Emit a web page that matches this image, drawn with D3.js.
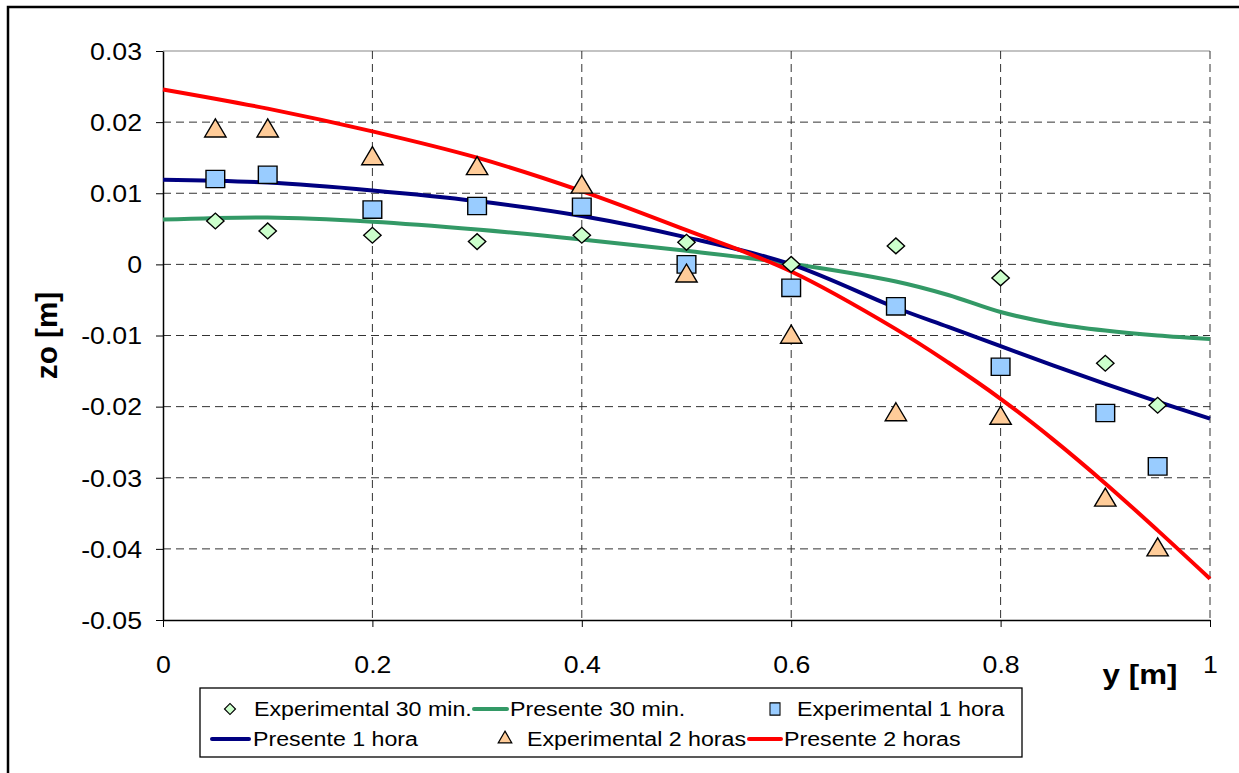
<!DOCTYPE html>
<html>
<head>
<meta charset="utf-8">
<script src="https://cdnjs.cloudflare.com/ajax/libs/d3/7.8.5/d3.min.js"></script>
<style>
  body { margin: 0; background: #fff; }
  svg { font-family: "Liberation Sans", Arial, sans-serif; }
</style>
</head>
<body>
<div id="chart"></div>
<script>
// experimental points
const expX = [0.05, 0.1, 0.2, 0.3, 0.4, 0.5, 0.6, 0.7, 0.8, 0.9, 0.95];
const exp30 = [0.0061, 0.0047, 0.0041, 0.0032, 0.0041, 0.0031, 0.0, 0.0026, -0.0019, -0.0139, -0.0198];
const exp1h = [0.0120, 0.0126, 0.0077, 0.0082, 0.0081, 0.0, -0.0033, -0.0059, -0.0144, -0.0209, -0.0284];
const exp2h = [0.0189, 0.0189, 0.0150, 0.0136, 0.0110, -0.0015, -0.0101, -0.0210, -0.0215, -0.0330, -0.0400];

// model curves
const modelX = [0, 0.1, 0.2, 0.3, 0.4, 0.5, 0.6, 0.7, 0.75, 0.8, 0.85, 0.9, 0.95, 1.0];
const pres30 = [0.0063, 0.0066, 0.0060, 0.0049, 0.0035, 0.0019, 0.0001, -0.0024, -0.0043, -0.0067, -0.0083, -0.0093, -0.0100, -0.0105];
const pres1h = [0.0119, 0.0115, 0.0104, 0.0089, 0.0068, 0.0038, 0.0000, -0.0061, -0.0088, -0.0115, -0.0142, -0.0168, -0.0193, -0.0217];
const pres2h = [0.0246, 0.0219, 0.0187, 0.0150, 0.0103, 0.0048, -0.0010, -0.0091, -0.0138, -0.0189, -0.0246, -0.0308, -0.0374, -0.0442];

const xTicks = [0, 0.2, 0.4, 0.6, 0.8, 1];
const yTicks = [0.03, 0.02, 0.01, 0, -0.01, -0.02, -0.03, -0.04, -0.05];

const width = 1239, height = 773;
const plot = { left: 163, top: 51, right: 1210, bottom: 620 };
const sx = 1.16; // text looks stretched horizontally in the original

const svg = d3.select("#chart").append("svg")
  .attr("width", width)
  .attr("height", height);

// outer frame (right and bottom edges fall outside the picture)
svg.append("rect")
  .attr("x", 8).attr("y", 7)
  .attr("width", 1300).attr("height", 800)
  .attr("fill", "none").attr("stroke", "#000").attr("stroke-width", 2.5);

const x = d3.scaleLinear().domain([0, 1]).range([plot.left, plot.right]);
const y = d3.scaleLinear().domain([-0.05, 0.03]).range([plot.bottom, plot.top]);

// grid
svg.append("g")
  .selectAll("line")
  .data(yTicks.filter(d => d !== -0.05 && d !== 0.03))
  .join("line")
  .attr("x1", plot.left).attr("x2", plot.right)
  .attr("y1", d => y(d)).attr("y2", d => y(d))
  .attr("stroke", "#333").attr("stroke-width", 1)
  .attr("stroke-dasharray", "8,5");

svg.append("line")
  .attr("x1", plot.left).attr("x2", plot.right)
  .attr("y1", y(0.03)).attr("y2", y(0.03))
  .attr("stroke", "#888").attr("stroke-width", 1.2);

svg.append("g")
  .selectAll("line")
  .data(xTicks.filter(d => d !== 0))
  .join("line")
  .attr("x1", d => x(d)).attr("x2", d => x(d))
  .attr("y1", plot.top).attr("y2", plot.bottom)
  .attr("stroke", "#333").attr("stroke-width", 1)
  .attr("stroke-dasharray", "8,5");

// axes
const yAxis = svg.append("g")
  .attr("transform", `translate(${plot.left},0)`)
  .call(d3.axisLeft(y).tickValues(yTicks).tickSize(7).tickSizeOuter(0)
    .tickFormat(d => d === 0 ? "0" : d3.format(".2f")(d).replace("−", "-")));
yAxis.select(".domain").attr("stroke", "#000").attr("stroke-width", 1.5);
yAxis.selectAll(".tick line").attr("stroke", "#000");
yAxis.selectAll(".tick text")
  .attr("font-size", 23).attr("fill", "#000")
  .attr("x", -21 / sx).attr("dy", "0.36em")
  .attr("transform", `scale(${sx},1)`)
  .attr("font-family", "Liberation Sans, Arial, sans-serif");

const xAxis = svg.append("g")
  .attr("transform", `translate(0,${plot.bottom})`)
  .call(d3.axisBottom(x).tickValues(xTicks).tickSize(7).tickSizeOuter(0)
    .tickFormat(d => d3.format("")(d)));
xAxis.select(".domain").attr("stroke", "#000").attr("stroke-width", 1.5);
xAxis.selectAll(".tick line").attr("stroke", "#000");
xAxis.selectAll(".tick text")
  .attr("font-size", 23).attr("fill", "#000")
  .attr("y", 53).attr("dy", 0)
  .attr("transform", `scale(${sx},1)`)
  .attr("font-family", "Liberation Sans, Arial, sans-serif");

// axis titles
svg.append("text")
  .attr("transform", `translate(57,${(plot.top + plot.bottom) / 2}) rotate(-90) scale(1.1,1.08)`)
  .attr("text-anchor", "middle")
  .attr("font-size", 27).attr("font-weight", "bold")
  .text("zo [m]");

svg.append("text")
  .attr("transform", `translate(1140,684) scale(${sx},1)`)
  .attr("text-anchor", "middle")
  .attr("font-size", 27).attr("font-weight", "bold")
  .text("y [m]");

// curves
const line = d3.line()
  .x(d => x(d[0]))
  .y(d => y(d[1]))
  .curve(d3.curveCatmullRom.alpha(0.5));

const curves = [
  { vals: pres30, color: "#339966" },
  { vals: pres1h, color: "#000080" },
  { vals: pres2h, color: "#ff0000" }
];

curves.forEach(c => {
  svg.append("path")
    .attr("d", line(modelX.map((v, i) => [v, c.vals[i]])))
    .attr("fill", "none")
    .attr("stroke", c.color)
    .attr("stroke-width", 4)
    .attr("stroke-linejoin", "round");
});

// markers
const diamond = d3.symbol().type(d3.symbolSquare).size(125);
const square = d3.symbol().type(d3.symbolSquare).size(300);
const triangle = d3.symbol().type(d3.symbolTriangle).size(170);

function markers(vals, sym, fill, tr) {
  svg.append("g")
    .selectAll("path")
    .data(expX.map((v, i) => [v, vals[i]]))
    .join("path")
    .attr("d", sym())
    .attr("transform", d => `translate(${x(d[0])},${y(d[1])}) ${tr}`)
    .attr("fill", fill)
    .attr("stroke", "#000")
    .attr("stroke-width", 1.3);
}
markers(exp30, diamond, "#ccffcc", "scale(1.1,1) rotate(45)");
markers(exp1h, square, "#99ccff", "scale(1.08,1)");
markers(exp2h, triangle, "#ffcc99", "translate(0,1) scale(1.08,1.05)");

// legend
svg.append("rect")
  .attr("x", 200).attr("y", 688)
  .attr("width", 822).attr("height", 69)
  .attr("fill", "#fff").attr("stroke", "#000").attr("stroke-width", 1.3);

const legendItems = [
  { label: "Experimental 30 min.", type: "m", sym: d3.symbol().type(d3.symbolSquare).size(60), fill: "#ccffcc", tr: "rotate(45)", sx: 230, tx: 254, ty: 716 },
  { label: "Presente 30 min.", type: "l", color: "#339966", x1: 474, x2: 507, tx: 510, ty: 716 },
  { label: "Experimental 1 hora", type: "m", sym: d3.symbol().type(d3.symbolSquare).size(140), fill: "#99ccff", tr: "scale(0.85,1.05)", sx: 775, tx: 797, ty: 716 },
  { label: "Presente 1 hora", type: "l", color: "#000080", x1: 212, x2: 249, tx: 253, ty: 746 },
  { label: "Experimental 2 horas", type: "m", sym: d3.symbol().type(d3.symbolTriangle).size(80), fill: "#ffcc99", tr: "", sx: 505, tx: 527, ty: 746 },
  { label: "Presente 2 horas", type: "l", color: "#ff0000", x1: 749, x2: 781, tx: 784, ty: 746 }
];

legendItems.forEach(it => {
  if (it.type === "m") {
    svg.append("path")
      .attr("d", it.sym())
      .attr("transform", `translate(${it.sx},${it.ty - 7}) ${it.tr}`)
      .attr("fill", it.fill).attr("stroke", "#000").attr("stroke-width", 1.2);
  } else {
    svg.append("line")
      .attr("x1", it.x1).attr("x2", it.x2)
      .attr("y1", it.ty - 7).attr("y2", it.ty - 7)
      .attr("stroke", it.color).attr("stroke-width", 4)
      .attr("stroke-linecap", "round");
  }
  svg.append("text")
    .attr("transform", `translate(${it.tx},${it.ty}) scale(1.16,1)`)
    .attr("font-size", 20)
    .text(it.label);
});
</script>
</body>
</html>
